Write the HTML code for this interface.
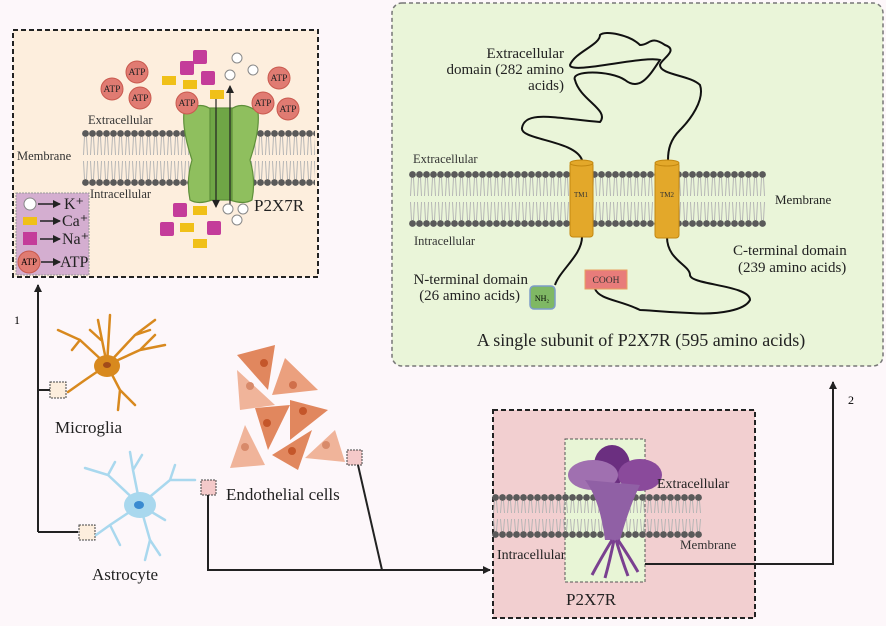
<!DOCTYPE html>
<html><head><meta charset="utf-8"><style>
html,body{margin:0;padding:0;background:#fdf7fa;}
svg{display:block;font-family:"Liberation Serif",serif;}
</style></head><body>
<svg width="886" height="626" viewBox="0 0 886 626" xmlns="http://www.w3.org/2000/svg">
<defs>
<pattern id="memA1" x="82" y="130" width="7" height="56" patternUnits="userSpaceOnUse">
<circle cx="3.5" cy="3.5" r="3.4" fill="#5a5a5a"/>
<path d="M2.5 7 L1.5 25 M4.5 7 L5.5 25 M1.5 31 L2.5 49 M5.5 31 L4.5 49" stroke="#b5b5b5" stroke-width="1" fill="none"/>
<circle cx="3.5" cy="52.5" r="3.4" fill="#5a5a5a"/>
</pattern>
<pattern id="memA2" x="409" y="171" width="7" height="56" patternUnits="userSpaceOnUse">
<circle cx="3.5" cy="3.5" r="3.4" fill="#5a5a5a"/>
<path d="M2.5 7 L1.5 25 M4.5 7 L5.5 25 M1.5 31 L2.5 49 M5.5 31 L4.5 49" stroke="#b5b5b5" stroke-width="1" fill="none"/>
<circle cx="3.5" cy="52.5" r="3.4" fill="#5a5a5a"/>
</pattern>
<pattern id="memB" x="492" y="494" width="7" height="44" patternUnits="userSpaceOnUse">
<circle cx="3.5" cy="3.5" r="3.4" fill="#5a5a5a"/>
<path d="M2.5 7 L1.5 19 M4.5 7 L5.5 19 M1.5 25 L2.5 37 M5.5 25 L4.5 37" stroke="#b5b5b5" stroke-width="1" fill="none"/>
<circle cx="3.5" cy="40.5" r="3.4" fill="#5a5a5a"/>
</pattern>
<marker id="ar" markerWidth="8" markerHeight="8" refX="7" refY="4" orient="auto" markerUnits="userSpaceOnUse"><path d="M0,0 L8,4 L0,8z" fill="#222"/></marker>
</defs>

<!-- Box 1 -->
<rect x="13" y="30" width="305" height="247" fill="#fdeedd" stroke="#222" stroke-width="2" stroke-dasharray="5,3"/>
<rect x="82" y="130" width="233" height="56" fill="url(#memA1)"/>
<g fill="#8fbf5e" stroke="#5e8f3a" stroke-width="1.2">
<path d="M184 112 Q200 100 212 110 L212 200 Q198 205 190 200 Q186 180 192 160 Q182 130 184 112z"/>
<path d="M258 112 Q242 100 230 110 L230 200 Q244 205 252 200 Q256 180 250 160 Q260 130 258 112z"/>
<rect x="210" y="108" width="22" height="92" fill="#6fa646"/>
</g>
<line x1="216" y1="95" x2="216" y2="207" stroke="#222" stroke-width="1.2" marker-end="url(#ar)"/>
<line x1="230" y1="205" x2="230" y2="86" stroke="#222" stroke-width="1.2" marker-end="url(#ar)"/>
<g fill="#e07b72" stroke="#c9594e" stroke-width="1">
<circle cx="112" cy="89" r="11"/><circle cx="137" cy="72" r="11"/><circle cx="140" cy="98" r="11"/>
<circle cx="187" cy="103" r="11"/><circle cx="263" cy="103" r="11"/><circle cx="279" cy="78" r="11"/><circle cx="288" cy="109" r="11"/>
</g>
<g font-size="9.5" fill="#222" text-anchor="middle">
<text x="112" y="92">ATP</text><text x="137" y="75">ATP</text><text x="140" y="101">ATP</text>
<text x="187" y="106">ATP</text><text x="263" y="106">ATP</text><text x="279" y="81">ATP</text><text x="288" y="112">ATP</text>
</g>
<g fill="#c43c9a"><rect x="193" y="50" width="14" height="14" rx="2"/><rect x="180" y="61" width="14" height="14" rx="2"/><rect x="201" y="71" width="14" height="14" rx="2"/>
<rect x="173" y="203" width="14" height="14" rx="2"/><rect x="160" y="222" width="14" height="14" rx="2"/><rect x="207" y="221" width="14" height="14" rx="2"/></g>
<g fill="#f0c018"><rect x="162" y="76" width="14" height="9"/><rect x="183" y="80" width="14" height="9"/><rect x="210" y="90" width="14" height="9"/>
<rect x="193" y="206" width="14" height="9"/><rect x="180" y="223" width="14" height="9"/><rect x="193" y="239" width="14" height="9"/></g>
<g fill="#fff" stroke="#888"><circle cx="237" cy="58" r="5"/><circle cx="253" cy="70" r="5"/><circle cx="230" cy="75" r="5"/>
<circle cx="228" cy="209" r="5"/><circle cx="243" cy="209" r="5"/><circle cx="237" cy="220" r="5"/></g>
<text x="88" y="124" font-size="12.5" fill="#333">Extracellular</text>
<text x="17" y="160" font-size="12.5" fill="#333">Membrane</text>
<text x="90" y="198" font-size="12.5" fill="#333">Intracellular</text>
<text x="254" y="211" font-size="17" fill="#222">P2X7R</text>
<rect x="16" y="193" width="73" height="82" fill="#d4aed0" stroke="#999" stroke-dasharray="2,1"/>
<circle cx="30" cy="204" r="6" fill="#fff" stroke="#888"/>
<rect x="23" y="217" width="14" height="8" fill="#f0c018"/>
<rect x="23" y="232" width="14" height="13" fill="#c43c9a"/>
<circle cx="29" cy="262" r="11" fill="#e07b72" stroke="#c9594e"/>
<text x="29" y="265" font-size="9" text-anchor="middle">ATP</text>
<g stroke="#222" stroke-width="1.5"><line x1="38" y1="204" x2="60" y2="204" marker-end="url(#ar)"/><line x1="40" y1="221" x2="60" y2="221" marker-end="url(#ar)"/><line x1="40" y1="239" x2="60" y2="239" marker-end="url(#ar)"/><line x1="41" y1="262" x2="60" y2="262" marker-end="url(#ar)"/></g>
<g font-size="16" fill="#222"><text x="64" y="209">K⁺</text><text x="62" y="226">Ca⁺</text><text x="62" y="244">Na⁺</text><text x="60" y="267">ATP</text></g>

<!-- arrow 1 -->
<polyline points="38,532 38,285" fill="none" stroke="#222" stroke-width="2" marker-end="url(#ar)"/>
<line x1="38" y1="390" x2="50" y2="390" stroke="#222" stroke-width="2"/>
<line x1="38" y1="532" x2="78" y2="532" stroke="#222" stroke-width="2"/>
<text x="14" y="324" font-size="12">1</text>
<rect x="50" y="382" width="16" height="16" fill="#fdeedd" stroke="#444" stroke-dasharray="2,1"/>
<rect x="79" y="525" width="16" height="15" fill="#fdeedd" stroke="#444" stroke-dasharray="2,1"/>

<!-- Microglia -->
<g stroke="#d8891e" stroke-width="2.5" fill="none" stroke-linecap="round">
<path d="M107 365 L98 320 M101 340 L90 330 M107 365 L80 340 L58 330 M80 340 L72 350 M107 365 L140 350 L165 345 M140 350 L155 335 M107 365 L85 380 L68 392 M107 365 L120 390 L118 410 M120 390 L135 405 M107 365 L110 315 M107 365 L135 335 L155 320 M135 335 L150 330"/>
</g>
<ellipse cx="107" cy="366" rx="13" ry="11" fill="#d8891e"/>
<ellipse cx="107" cy="365" rx="4" ry="3" fill="#a24b1a"/>
<text x="55" y="433" font-size="17" fill="#222">Microglia</text>

<!-- Astrocyte -->
<g stroke="#a9d8ee" stroke-width="2.5" fill="none" stroke-linecap="round">
<path d="M140 505 L133 470 L130 452 M133 470 L142 455 M140 505 L108 475 L85 468 M108 475 L115 462 M140 505 L170 480 L195 480 M170 480 L175 465 M140 505 L110 525 L96 535 M110 525 L120 545 M140 505 L150 540 L160 555 M150 540 L145 560 M140 505 L165 520"/>
</g>
<ellipse cx="140" cy="505" rx="16" ry="13" fill="#a9d8ee"/>
<ellipse cx="139" cy="505" rx="5" ry="4" fill="#3a8ad0"/>
<text x="92" y="580" font-size="17" fill="#222">Astrocyte</text>

<!-- Endothelial -->
<g>
<path d="M237 355 L275 345 L268 390 Z" fill="#e1875e"/><circle cx="264" cy="363" r="4" fill="#c4562a"/>
<path d="M237 370 L275 405 L240 410 Z" fill="#f0b49a"/><circle cx="250" cy="386" r="4" fill="#d88a6a"/>
<path d="M285 358 L318 390 L272 395 Z" fill="#eba07e"/><circle cx="293" cy="385" r="4" fill="#d06f4a"/>
<path d="M255 408 L290 405 L268 450 Z" fill="#e1875e"/><circle cx="267" cy="423" r="4" fill="#c4562a"/>
<path d="M290 400 L328 410 L290 440 Z" fill="#e1875e"/><circle cx="303" cy="411" r="4" fill="#c4562a"/>
<path d="M245 425 L265 465 L230 468 Z" fill="#f0b49a"/><circle cx="245" cy="447" r="4" fill="#d88a6a"/>
<path d="M272 455 L312 430 L298 470 Z" fill="#e1875e"/><circle cx="292" cy="451" r="4" fill="#c4562a"/>
<path d="M305 458 L335 430 L345 462 Z" fill="#f0b49a"/><circle cx="326" cy="445" r="4" fill="#d88a6a"/>
</g>
<text x="226" y="500" font-size="17" fill="#222">Endothelial cells</text>
<rect x="201" y="480" width="15" height="15" fill="#f4c9c9" stroke="#444" stroke-dasharray="2,1"/>
<rect x="347" y="450" width="15" height="15" fill="#f4c9c9" stroke="#444" stroke-dasharray="2,1"/>
<polyline points="208,495 208,570 490,570" fill="none" stroke="#222" stroke-width="2" marker-end="url(#ar)"/>
<line x1="358" y1="465" x2="382" y2="570" stroke="#222" stroke-width="2"/>

<!-- Box 3 -->
<rect x="493" y="410" width="262" height="208" fill="#f2cfd0" stroke="#222" stroke-width="2" stroke-dasharray="5,3"/>
<rect x="565" y="439" width="80" height="143" fill="#e8f5d6" stroke="#555" stroke-dasharray="3,2"/>
<rect x="492" y="494" width="210" height="44" fill="url(#memB)"/>
<g>
<ellipse cx="612" cy="465" rx="18" ry="20" fill="#6b2f80"/>
<ellipse cx="640" cy="475" rx="22" ry="16" fill="#8a4a9b"/>
<ellipse cx="593" cy="475" rx="25" ry="15" fill="#a070b0"/>
<path d="M585 480 Q600 500 605 540 L620 540 Q630 505 640 485 Z" fill="#9060a5"/>
<path d="M612 540 Q600 560 592 575 M614 540 Q610 560 605 578 M616 540 Q622 560 628 576 M618 540 Q630 558 638 572" stroke="#7a4090" stroke-width="3" fill="none"/>
</g>
<text x="657" y="488" font-size="14" fill="#222">Extracellular</text>
<text x="680" y="549" font-size="13" fill="#333">Membrane</text>
<text x="497" y="559" font-size="14" fill="#222">Intracellular</text>
<text x="566" y="605" font-size="17" fill="#222">P2X7R</text>
<polyline points="645,564 833,564 833,382" fill="none" stroke="#222" stroke-width="2" marker-end="url(#ar)"/>
<text x="848" y="404" font-size="12">2</text>

<!-- Box 2 -->
<rect x="392" y="3" width="491" height="363" rx="10" fill="#eaf5d9" stroke="#777" stroke-width="1.5" stroke-dasharray="4,3"/>
<rect x="409" y="171" width="357" height="56" fill="url(#memA2)"/>
<path d="M582 160 C575 140 520 140 522 128 C525 110 555 118 600 122 C610 110 580 100 575 80 C570 70 610 70 625 80 C640 92 650 75 660 60 C645 55 570 75 570 65 C575 52 600 45 600 35 C605 30 630 35 640 45 C650 45 650 35 665 45 C680 50 660 60 660 65 C660 75 690 75 700 85 C705 100 690 120 680 130 C670 140 668 150 668 160" fill="none" stroke="#111" stroke-width="2"/>
<path d="M582 237 C582 255 560 270 555 285" fill="none" stroke="#111" stroke-width="2"/>
<path d="M667 237 C667 260 690 265 690 275 C690 285 750 285 750 300 C745 310 720 315 690 313 C660 312 650 310 640 310 C620 300 600 300 595 289" fill="none" stroke="#111" stroke-width="2"/>
<g fill="#e3a82a" stroke="#c38810">
<rect x="570" y="162" width="23" height="75" rx="3"/><ellipse cx="581.5" cy="163" rx="11.5" ry="3"/>
<rect x="655" y="162" width="24" height="76" rx="3"/><ellipse cx="667" cy="163" rx="12" ry="3"/>
</g>
<text x="581" y="197" font-size="7" text-anchor="middle" fill="#333">TM1</text>
<text x="667" y="197" font-size="7" text-anchor="middle" fill="#333">TM2</text>
<rect x="530" y="286" width="25" height="23" rx="4" fill="#7fb864" stroke="#7c9cc8" stroke-width="1.5"/>
<text x="542" y="301" font-size="8" text-anchor="middle">NH₂</text>
<rect x="585" y="270" width="42" height="19" fill="#e87c7a" stroke="#e8a060"/>
<text x="606" y="283" font-size="9.5" text-anchor="middle" fill="#333">COOH</text>
<g font-size="15" fill="#222" text-anchor="end">
<text x="564" y="58">Extracellular</text><text x="564" y="74">domain (282 amino</text><text x="564" y="90">acids)</text>
<text x="528" y="284">N-terminal domain</text><text x="520" y="300">(26 amino acids)</text>
</g>
<text x="413" y="163" font-size="12.5" fill="#333">Extracellular</text>
<text x="414" y="245" font-size="12.5" fill="#333">Intracellular</text>
<text x="775" y="204" font-size="13" fill="#222">Membrane</text>
<text x="733" y="255" font-size="15" fill="#222">C-terminal domain</text>
<text x="738" y="272" font-size="15" fill="#222">(239 amino acids)</text>
<text x="641" y="346" font-size="18" fill="#222" text-anchor="middle">A single subunit of P2X7R (595 amino acids)</text>
</svg>
</body></html>
